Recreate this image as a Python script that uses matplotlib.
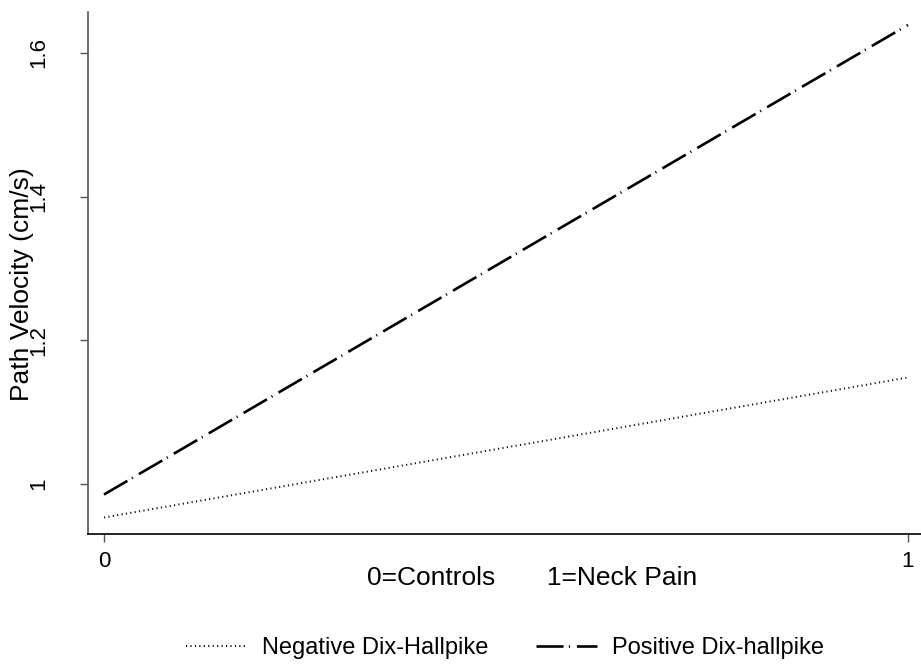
import matplotlib
matplotlib.use("Agg")
import matplotlib.pyplot as plt
from matplotlib.lines import Line2D

plt.rcParams['font.family'] = ['Liberation Sans', 'DejaVu Sans']
plt.rcParams['lines.scale_dashes'] = False

# group coding on the x axis and fitted path velocity per Dix-Hallpike result
group = [0, 1]
negative_dix = [0.953, 1.148]
positive_dix = [0.985, 1.639]
series_labels = ["Negative Dix-Hallpike", "Positive Dix-hallpike"]
y_ticks = [1.0, 1.2, 1.4, 1.6]
y_tick_labels = ["1", "1.2", "1.4", "1.6"]
x_ticks = [0, 1]
x_tick_labels = ["0", "1"]

W, H = 921, 666
L, T, R, B = 88, 12, 921, 534
fig = plt.figure(figsize=(W / 100, H / 100), dpi=100)
ax = fig.add_axes([L / W, 1 - B / H, (R - L) / W, (B - T) / H])

dot_style = dict(color="black", lw=1.4, dashes=(0.8, 2.4))
dashdot_style = dict(color="black", lw=1.9, dashes=(19.5, 3.8, 0.8, 5.0))

ax.plot(group, negative_dix, solid_capstyle="butt", **dot_style)
ax.plot(group, positive_dix, **dashdot_style)

ax.set_xlim(-0.0199, 1.0162)
ax.set_ylim(0.930, 1.657)

ax.set_yticks(y_ticks)
ax.set_yticklabels(y_tick_labels, rotation=90, va="center", fontsize=16)
ax.set_xticks(x_ticks)
ax.set_xticklabels(x_tick_labels, fontsize=16)
ax.tick_params(axis="both", length=6, width=1, color="#555555")
ax.tick_params(axis="y", pad=22)
ax.tick_params(axis="x", pad=6)

for side in ("top", "right"):
    ax.spines[side].set_visible(False)
ax.spines["left"].set_color("#555555")
ax.spines["bottom"].set_color("black")
ax.spines["left"].set_linewidth(1.2)
ax.spines["bottom"].set_linewidth(1.2)

ax.set_ylabel("Path Velocity (cm/s)", fontsize=19)
ax.yaxis.label.set_va("center")
ax.yaxis.set_label_coords((22 - L) / (R - L), (B - 284) / (B - T))

ax.set_xlabel("0=Controls       1=Neck Pain", fontsize=19)
ax.xaxis.label.set_va("center")
ax.xaxis.set_label_coords((532 - L) / (R - L), -(578 - B) / (B - T))

handles = [
    Line2D([0], [0], **dot_style),
    Line2D([0], [0], **dashdot_style),
]
fig.legend(handles, series_labels, loc="center", ncol=2, frameon=False,
           bbox_to_anchor=(505 / W, 1 - 648 / H), fontsize=17,
           handlelength=2.6, columnspacing=2.0, handletextpad=0.63)

fig.savefig("out.png", dpi=100, facecolor="white")
